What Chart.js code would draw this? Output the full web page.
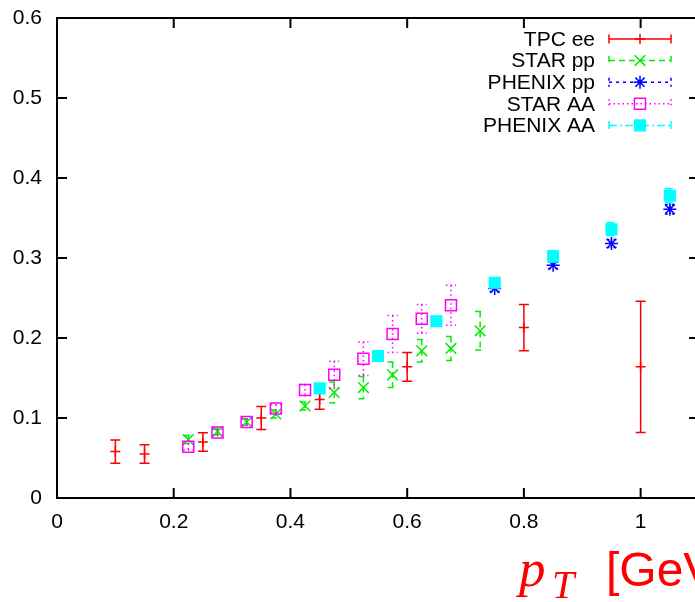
<!DOCTYPE html>
<html>
<head>
<meta charset="utf-8">
<script src="https://cdn.jsdelivr.net/npm/chart.js@4.4.1/dist/chart.umd.min.js"></script>
<style>
  html, body { margin: 0; padding: 0; background: #fff; }
  #wrap { width: 695px; height: 602px; overflow: hidden; }
</style>
</head>
<body>
<div id="wrap"><canvas id="c" width="720" height="602"></canvas></div>
<script>
// Tick values
const xTicks = [0, 0.2, 0.4, 0.6, 0.8, 1.0]
const yTicks = [0, 0.1, 0.2, 0.3, 0.4, 0.5, 0.6]

// TPC ee
const tpcX = [0.1, 0.15, 0.25, 0.35, 0.45, 0.6, 0.8, 1.0]
const tpcY = [0.058, 0.055, 0.070, 0.100, 0.123, 0.164, 0.213, 0.164]
const tpcErr = [0.0145, 0.0115, 0.0115, 0.0145, 0.012, 0.018, 0.029, 0.082]

// STAR pp
const starPpX = [0.225, 0.275, 0.325, 0.375, 0.425, 0.475, 0.525, 0.575, 0.625, 0.675, 0.725]
const starPpY = [0.073, 0.083, 0.095, 0.105, 0.115, 0.132, 0.138, 0.154, 0.184, 0.187, 0.209]
const starPpErr = [0.005, 0.004, 0.004, 0.005, 0.005, 0.013, 0.014, 0.016, 0.014, 0.015, 0.024]

// PHENIX pp
const phenixPpX = [0.75, 0.85, 0.95, 1.05]
const phenixPpY = [0.262, 0.291, 0.318, 0.361]
const phenixPpErr = [0.004, 0.004, 0.005, 0.006]

// STAR AA
const starAaX = [0.225, 0.275, 0.325, 0.375, 0.425, 0.475, 0.525, 0.575, 0.625, 0.675]
const starAaY = [0.064, 0.082, 0.095, 0.112, 0.135, 0.154, 0.174, 0.205, 0.224, 0.241]
const starAaErr = [0.004, 0.004, 0.004, 0.005, 0.007, 0.017, 0.021, 0.023, 0.018, 0.025]

// PHENIX AA
const phenixAaX = [0.45, 0.55, 0.65, 0.75, 0.85, 0.95, 1.05]
const phenixAaY = [0.137, 0.1775, 0.221, 0.269, 0.302, 0.336, 0.378]
const phenixAaErr = [0.004, 0.005, 0.005, 0.006, 0.007, 0.008, 0.009]

const toPoints = (xs, ys) => xs.map((x, i) => ({ x: x, y: ys[i] }))
const fmt = v => String(+v.toFixed(2))

Chart.defaults.font.family = "'Liberation Sans', Arial, sans-serif"
Chart.defaults.font.size = 21
Chart.defaults.color = "#000"

function makeSet(label, xs, ys, errs, color, dash, style, radius, fill, order) {
  return {
    label: label,
    data: toPoints(xs, ys),
    errors: errs,
    dash: dash,
    borderColor: color,
    backgroundColor: fill ? color : "rgba(0,0,0,0)",
    pointStyle: style,
    pointRadius: radius,
    pointHoverRadius: radius,
    pointBorderWidth: 1.5,
    showLine: false,
    order: order
  }
}

const datasets = [
  makeSet("TPC ee", tpcX, tpcY, tpcErr, "#ff0000", [], "cross", 5, false, 5),
  makeSet("STAR pp", starPpX, starPpY, starPpErr, "#00ee00", [6, 4], "crossRot", 7.5, false, 4),
  makeSet("PHENIX pp", phenixPpX, phenixPpY, phenixPpErr, "#0000ff", [3, 4], "star", 6.5, false, 3),
  makeSet("STAR AA", starAaX, starAaY, starAaErr, "#ff00ff", [1.5, 3], "rect", 7.8, false, 2),
  makeSet("PHENIX AA", phenixAaX, phenixAaY, phenixAaErr, "#00ffff", [8, 3, 2, 3], "rect", 7.5, true, 1)
]

// Error bars, drawn just before the points of each dataset
const errorBars = {
  id: "errorBars",
  beforeDatasetDraw(chart, args) {
    const ds = chart.data.datasets[args.index]
    const xs = chart.scales.x, ys = chart.scales.y
    const ctx = chart.ctx
    ctx.save()
    ctx.strokeStyle = ds.borderColor
    ctx.lineWidth = 1.5
    ctx.setLineDash(ds.dash)
    ds.data.forEach((p, i) => {
      const e = ds.errors[i]
      const px = xs.getPixelForValue(p.x)
      const top = ys.getPixelForValue(p.y + e)
      const bot = ys.getPixelForValue(p.y - e)
      ctx.beginPath()
      ctx.moveTo(px, top); ctx.lineTo(px, bot)
      ctx.moveTo(px - 5, top); ctx.lineTo(px + 5, top)
      ctx.moveTo(px - 5, bot); ctx.lineTo(px + 5, bot)
      ctx.stroke()
    })
    ctx.restore()
  }
}

// gnuplot style frame with inward ticks on all four sides
const frame = {
  id: "frame",
  afterDraw(chart) {
    const { ctx, chartArea: a } = chart
    const xs = chart.scales.x, ys = chart.scales.y
    ctx.save()
    ctx.strokeStyle = "#000"
    ctx.lineWidth = 2
    ctx.beginPath()
    ctx.rect(a.left, a.top, a.right - a.left, a.bottom - a.top)
    xTicks.forEach(v => {
      const px = xs.getPixelForValue(v)
      ctx.moveTo(px, a.bottom); ctx.lineTo(px, a.bottom - 10)
      ctx.moveTo(px, a.top); ctx.lineTo(px, a.top + 10)
    })
    yTicks.forEach(v => {
      const py = ys.getPixelForValue(v)
      ctx.moveTo(a.left, py); ctx.lineTo(a.left + 10, py)
      ctx.moveTo(a.right, py); ctx.lineTo(a.right - 10, py)
    })
    ctx.stroke()
    ctx.restore()
  }
}

// Key in the top right, text right aligned, sample to the right
const key = {
  id: "key",
  afterDraw(chart) {
    const ctx = chart.ctx
    const textRight = 595, x0 = 609, x1 = 671, xm = 640
    ctx.save()
    chart.data.datasets.forEach((ds, i) => {
      const y = 39 + i * 21.6
      ctx.fillStyle = "#000"
      ctx.font = "21px 'Liberation Sans'"
      ctx.textAlign = "right"
      ctx.textBaseline = "middle"
      ctx.fillText(ds.label, textRight, y + 1)
      ctx.strokeStyle = ds.borderColor
      ctx.lineWidth = 1.5
      ctx.setLineDash(ds.dash)
      ctx.beginPath()
      ctx.moveTo(x0, y); ctx.lineTo(x1, y)
      ctx.moveTo(x0, y - 4.5); ctx.lineTo(x0, y + 4.5)
      ctx.moveTo(x1, y - 4.5); ctx.lineTo(x1, y + 4.5)
      ctx.stroke()
      ctx.setLineDash([])
      ctx.fillStyle = ds.backgroundColor
      Chart.helpers.drawPoint(ctx, {
        pointStyle: ds.pointStyle, radius: ds.pointRadius, borderWidth: 1.5, rotation: 0
      }, xm, y)
    })
    ctx.restore()
  }
}

// Axis title: p_T [GeV] in red
const xTitle = {
  id: "xTitle",
  afterDraw(chart) {
    const ctx = chart.ctx
    ctx.save()
    ctx.fillStyle = "#ff0000"
    ctx.textAlign = "left"
    ctx.textBaseline = "alphabetic"
    ctx.font = "italic 53px 'Liberation Serif'"
    ctx.fillText("p", 519, 586)
    ctx.font = "italic 40px 'Liberation Serif'"
    ctx.fillText("T", 552, 598)
    ctx.font = "48px 'Liberation Sans'"
    ctx.fillText("[GeV]", 606, 586)
    ctx.restore()
  }
}

new Chart(document.getElementById("c"), {
  type: "scatter",
  data: { datasets: datasets },
  options: {
    responsive: false,
    animation: false,
    devicePixelRatio: 1,
    layout: { padding: { top: 18, right: 21, left: 0, bottom: 0 } },
    plugins: { legend: { display: false }, tooltip: { enabled: false } },
    scales: {
      x: {
        type: "linear",
        min: 0,
        max: 1.1,
        grid: { display: false, drawTicks: false },
        border: { display: false },
        afterFit: s => { s.height = 104; s.paddingLeft = 0; s.paddingRight = 0 },
        afterBuildTicks: s => { s.ticks = xTicks.map(v => ({ value: v })) },
        ticks: { padding: 12, maxRotation: 0, autoSkip: false, callback: v => fmt(v) }
      },
      y: {
        type: "linear",
        min: 0,
        max: 0.6,
        grid: { display: false, drawTicks: false },
        border: { display: false },
        afterFit: s => { s.width = 57; s.paddingTop = 0; s.paddingBottom = 0 },
        afterBuildTicks: s => { s.ticks = yTicks.map(v => ({ value: v })) },
        ticks: { padding: 15, autoSkip: false, callback: v => fmt(v) }
      }
    }
  },
  plugins: [errorBars, frame, key, xTitle]
})
</script>
</body>
</html>
